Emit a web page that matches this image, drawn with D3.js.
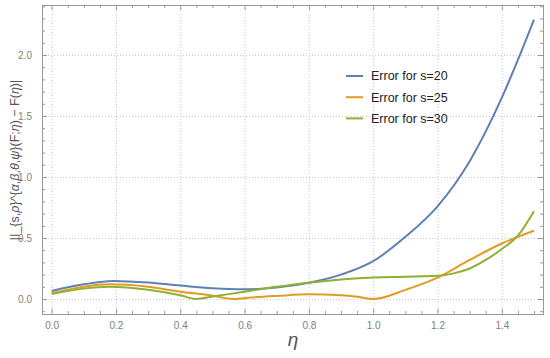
<!DOCTYPE html>
<html>
<head>
<meta charset="utf-8">
<script src="https://cdn.jsdelivr.net/npm/d3@7"></script>
<style>
  body { margin: 0; background: #fff; }
  svg { font-family: 'Liberation Sans', Arial, sans-serif; }
</style>
</head>
<body>
<script>
// values
const etaS20 = [0, 0.1, 0.19, 0.3, 0.4, 0.5, 0.6, 0.7, 0.8, 0.9, 1.0, 1.1, 1.2, 1.3, 1.4, 1.45, 1.5];
const errS20 = [0.066, 0.12, 0.148, 0.135, 0.11, 0.088, 0.079, 0.095, 0.134, 0.2, 0.31, 0.51, 0.76, 1.13, 1.65, 1.96, 2.29];

const etaS25 = [0, 0.1, 0.18, 0.3, 0.4, 0.49, 0.565, 0.62, 0.7, 0.8, 0.9, 0.95, 1.0, 1.1, 1.2, 1.3, 1.4, 1.5];
const errS25 = [0.047, 0.1, 0.12, 0.1, 0.06, 0.033, 0.0, 0.012, 0.025, 0.038, 0.03, 0.018, 0.0, 0.075, 0.175, 0.32, 0.455, 0.56];

const etaS30 = [0, 0.1, 0.18, 0.3, 0.4, 0.45, 0.5, 0.6, 0.7, 0.8, 0.9, 1.0, 1.1, 1.2, 1.25, 1.3, 1.35, 1.4, 1.45, 1.5];
const errS30 = [0.04, 0.085, 0.1, 0.075, 0.03, 0.0, 0.02, 0.06, 0.1, 0.134, 0.16, 0.177, 0.183, 0.19, 0.21, 0.25, 0.32, 0.41, 0.52, 0.72];

const seriesNames = ['Error for s=20', 'Error for s=25', 'Error for s=30'];
const seriesColors = ['#5e81b5', '#e19c24', '#8fb032'];

const xTicks = [0, 0.2, 0.4, 0.6, 0.8, 1.0, 1.2, 1.4];
const yTicks = [0, 0.5, 1.0, 1.5, 2.0];

const yLabel = '|I_{s,ρ}^{α,β,θ,ψ}(F;η) − F(η)|';
const xLabel = 'η';

const width = 550, height = 358;
const frame = { left: 42, right: 543, top: 5, bottom: 314 };

const svg = d3.select('body')
  .append('svg')
  .attr('width', width)
  .attr('height', height);

const x = d3.scaleLinear().domain([-0.03, 1.528]).range([frame.left, frame.right]);
const y = d3.scaleLinear().domain([-0.123, 2.41]).range([frame.bottom, frame.top]);

// grid
const grid = svg.append('g')
  .attr('stroke', '#c8c8c8')
  .attr('stroke-width', 1)
  .attr('stroke-dasharray', '1,2');

grid.selectAll('.gx')
  .data(xTicks)
  .enter()
  .append('line')
  .attr('x1', d => x(d) + 0.5)
  .attr('x2', d => x(d) + 0.5)
  .attr('y1', frame.top)
  .attr('y2', frame.bottom);

grid.selectAll('.gy')
  .data(yTicks)
  .enter()
  .append('line')
  .attr('x1', frame.left)
  .attr('x2', frame.right)
  .attr('y1', d => y(d) + 0.5)
  .attr('y2', d => y(d) + 0.5);

// frame axes, ticks pointing inward
const xMinor = d3.range(0, 1.5001, 0.05).filter(v => Math.abs(v * 5 - Math.round(v * 5)) > 1e-6);
const yMinor = d3.range(-0.1, 2.4001, 0.1).filter(v => Math.abs(v * 2 - Math.round(v * 2)) > 1e-6);

function styleAxis(g) {
  g.select('.domain').attr('stroke', '#999');
  g.selectAll('.tick line').attr('stroke', '#999');
  g.selectAll('.tick text')
    .attr('fill', '#808080')
    .attr('font-size', 10)
    .attr('font-family', "'Liberation Sans', Arial, sans-serif");
}

svg.append('g')
  .attr('transform', `translate(0, ${frame.bottom})`)
  .call(d3.axisBottom(x).tickValues(xTicks).tickSize(-5).tickSizeOuter(0).tickPadding(8).tickFormat(d3.format('.1f')))
  .call(styleAxis);

svg.append('g')
  .attr('transform', `translate(0, ${frame.bottom})`)
  .call(d3.axisBottom(x).tickValues(xMinor).tickSize(-3).tickSizeOuter(0).tickFormat(''))
  .call(styleAxis);

svg.append('g')
  .attr('transform', `translate(0, ${frame.top})`)
  .call(d3.axisTop(x).tickValues(xTicks).tickSize(-5).tickSizeOuter(0).tickFormat(''))
  .call(styleAxis);

svg.append('g')
  .attr('transform', `translate(0, ${frame.top})`)
  .call(d3.axisTop(x).tickValues(xMinor).tickSize(-3).tickSizeOuter(0).tickFormat(''))
  .call(styleAxis);

svg.append('g')
  .attr('transform', `translate(${frame.left}, 0)`)
  .call(d3.axisLeft(y).tickValues(yTicks).tickSize(-5).tickSizeOuter(0).tickPadding(10).tickFormat(d3.format('.1f')))
  .call(styleAxis);

svg.append('g')
  .attr('transform', `translate(${frame.left}, 0)`)
  .call(d3.axisLeft(y).tickValues(yMinor).tickSize(-3).tickSizeOuter(0).tickFormat(''))
  .call(styleAxis);

svg.append('g')
  .attr('transform', `translate(${frame.right}, 0)`)
  .call(d3.axisRight(y).tickValues(yTicks).tickSize(-5).tickSizeOuter(0).tickFormat(''))
  .call(styleAxis);

svg.append('g')
  .attr('transform', `translate(${frame.right}, 0)`)
  .call(d3.axisRight(y).tickValues(yMinor).tickSize(-3).tickSizeOuter(0).tickFormat(''))
  .call(styleAxis);

svg.append('rect')
  .attr('x', frame.left + 0.5)
  .attr('y', frame.top + 0.5)
  .attr('width', frame.right - frame.left)
  .attr('height', frame.bottom - frame.top)
  .attr('fill', 'none')
  .attr('stroke', '#999');

// curves
const series = [
  d3.zip(etaS20, errS20),
  d3.zip(etaS25, errS25),
  d3.zip(etaS30, errS30),
];

const line = d3.line()
  .x(d => x(d[0]))
  .y(d => y(d[1]))
  .curve(d3.curveMonotoneX);

svg.append('g')
  .selectAll('path')
  .data(series)
  .enter()
  .append('path')
  .attr('fill', 'none')
  .attr('stroke', (d, i) => seriesColors[i])
  .attr('stroke-width', 2)
  .attr('stroke-linejoin', 'round')
  .attr('d', line);

// legend
const legend = svg.append('g')
  .attr('transform', 'translate(346, 76)');

const item = legend.selectAll('g')
  .data(seriesNames)
  .enter()
  .append('g')
  .attr('transform', (d, i) => `translate(0, ${i * 21.2})`);

item.append('line')
  .attr('x1', 0)
  .attr('x2', 17)
  .attr('stroke', (d, i) => seriesColors[i])
  .attr('stroke-width', 2);

item.append('text')
  .attr('x', 25)
  .attr('dy', '0.35em')
  .attr('font-size', 12.5)
  .attr('fill', '#222')
  .text(d => d);

// axis labels
const isGreek = c => /[\u0370-\u03ff]/.test(c);

function richText(sel, str) {
  const parts = [];
  for (const c of str) {
    const it = isGreek(c);
    if (parts.length && parts[parts.length - 1].it === it) parts[parts.length - 1].s += c;
    else parts.push({ s: c, it });
  }
  sel.selectAll('tspan')
    .data(parts)
    .enter()
    .append('tspan')
    .attr('font-style', d => d.it ? 'italic' : 'normal')
    .text(d => d.s);
}

svg.append('text')
  .attr('transform', 'translate(19, 160) rotate(-90)')
  .attr('text-anchor', 'middle')
  .attr('font-size', 12.5)
  .attr('fill', '#555')
  .call(richText, yLabel);

svg.append('text')
  .attr('x', 293)
  .attr('y', 346)
  .attr('text-anchor', 'middle')
  .attr('font-size', 19)
  .attr('font-style', 'italic')
  .attr('fill', '#555')
  .text(xLabel);
</script>
</body>
</html>
